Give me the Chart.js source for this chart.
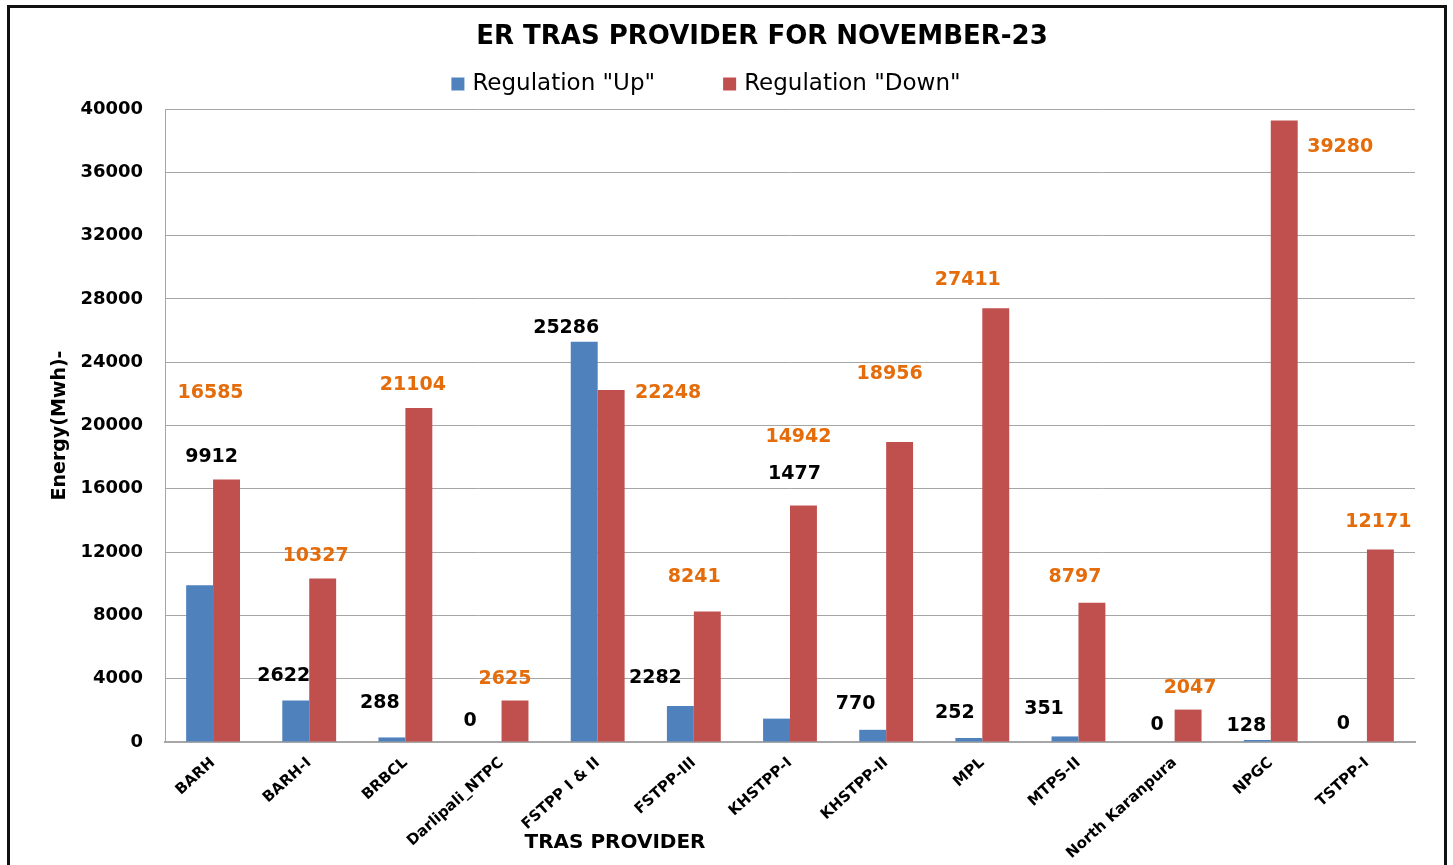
<!DOCTYPE html>
<html>
<head>
<meta charset="utf-8">
<script src="https://cdn.jsdelivr.net/npm/chart.js@4.4.0/dist/chart.umd.min.js"></script>
<style>
  body { margin: 0; background: #fff; overflow: hidden; }
  #wrap { position: relative; width: 1453px; height: 865px; }
  #frame { position: absolute; left: 7px; top: 5px; width: 1440px; height: 880px; border: 3px solid #111; box-sizing: border-box; }
  canvas { position: absolute; left: 0; top: 0; }
</style>
</head>
<body>
<div id="wrap">
  <div id="frame"></div>
  <canvas id="trasChart" width="1453" height="865"></canvas>
</div>
<script>
const providers = ['BARH', 'BARH-I', 'BRBCL', 'Darlipali_NTPC', 'FSTPP I & II', 'FSTPP-III', 'KHSTPP-I',
    'KHSTPP-II', 'MPL', 'MTPS-II', 'North Karanpura', 'NPGC', 'TSTPP-I'];
const regUp = [9912, 2622, 288, 0, 25286, 2282, 1477, 770, 252, 351, 0, 128, 0];
const regDown = [16585, 10327, 21104, 2625, 22248, 8241, 14942, 18956, 27411, 8797, 2047, 39280, 12171];
const yTicks = [0, 4000, 8000, 12000, 16000, 20000, 24000, 28000, 32000, 36000, 40000];

// label nudges (px) from the top of each bar, as placed in the original
const upShift = [[12, -128], [-12, -24], [-12, -34], [-18, -21], [-18, -14], [-25, -28], [18, -245],
    [-17, -26], [-14, -25], [-21, -27], [-4, -17], [-11, -14], [-10, -18]];
const downShift = [[-16, -86], [-7, -23], [-6, -23], [-10, -21], [57, 3], [-13, -35], [-5, -68],
    [-10, -68], [-28, -28], [-17, -26], [2, -22], [56, 27], [-2, -27]];

const FONT = '"DejaVu Sans", Verdana, sans-serif';

const valueLabels = {
    id: 'valueLabels',
    afterDatasetsDraw(chart) {
        const ctx = chart.ctx;
        ctx.save();
        ctx.font = 'bold 19px ' + FONT;
        ctx.textAlign = 'center';
        ctx.textBaseline = 'middle';
        chart.data.datasets.forEach((ds, di) => {
            const shifts = di === 0 ? upShift : downShift;
            ctx.fillStyle = di === 0 ? '#000000' : '#E46C0A';
            chart.getDatasetMeta(di).data.forEach((bar, i) => {
                ctx.fillText(ds.data[i], bar.x + shifts[i][0], bar.y + shifts[i][1]);
            });
        });
        ctx.restore();
    }
};

const headerAndLegend = {
    id: 'headerAndLegend',
    afterDraw(chart) {
        const ctx = chart.ctx;
        ctx.save();
        ctx.fillStyle = '#000';
        ctx.textBaseline = 'middle';
        // title
        ctx.font = 'bold 26px ' + FONT;
        ctx.textAlign = 'center';
        ctx.fillText('ER TRAS PROVIDER FOR NOVEMBER-23', 762, 37);
        // legend
        ctx.font = '23px ' + FONT;
        ctx.textAlign = 'left';
        const items = chart.data.datasets.map(ds => ({ text: ds.label, color: ds.backgroundColor }));
        const box = 13, gapIn = 8, gapOut = 68;
        const widths = items.map(it => box + gapIn + ctx.measureText(it.text).width);
        const total = widths.reduce((a, b) => a + b, 0) + gapOut * (items.length - 1);
        let x = 706 - total / 2;
        const y = 84;
        items.forEach((it, i) => {
            ctx.fillStyle = it.color;
            ctx.fillRect(x, y - box / 2, box, box);
            ctx.fillStyle = '#000';
            ctx.fillText(it.text, x + box + gapIn, y);
            x += widths[i] + gapOut;
        });
        // x axis title
        ctx.font = 'bold 20px ' + FONT;
        ctx.textAlign = 'center';
        ctx.fillText('TRAS PROVIDER', 615, 843);
        ctx.restore();
    }
};

new Chart(document.getElementById('trasChart'), {
    type: 'bar',
    data: {
        labels: providers,
        datasets: [{
            label: 'Regulation "Up"',
            data: regUp,
            backgroundColor: '#4F81BD',
            categoryPercentage: 0.56,
            barPercentage: 1
        }, {
            label: 'Regulation "Down"',
            data: regDown,
            backgroundColor: '#C0504D',
            categoryPercentage: 0.56,
            barPercentage: 1
        }]
    },
    options: {
        responsive: false,
        animation: false,
        layout: { padding: { left: 40, right: 38, top: 109, bottom: 0 } },
        plugins: {
            legend: { display: false },
            tooltip: { enabled: false },
            title: { display: false }
        },
        scales: {
            x: {
                grid: { display: false },
                border: { color: '#A6A6A6', width: 2 },
                ticks: {
                    color: '#000',
                    font: { family: FONT, size: 15, weight: 'bold' },
                    minRotation: 42,
                    maxRotation: 42,
                    autoSkip: false,
                    padding: 4
                },
                afterFit(scale) { scale.height = 123; }
            },
            y: {
                min: 0,
                max: 40000,
                afterBuildTicks(scale) { scale.ticks = yTicks.map(v => ({ value: v })); },
                grid: { color: '#A6A6A6', lineWidth: 1, drawTicks: false },
                border: { color: '#A6A6A6', width: 1 },
                ticks: {
                    color: '#000',
                    font: { family: FONT, size: 18, weight: 'bold' },
                    padding: 22,
                    callback: v => String(v)
                },
                title: {
                    display: true,
                    text: 'Energy(Mwh)-',
                    color: '#000',
                    font: { family: FONT, size: 19, weight: 'bold' },
                    padding: { top: 9, bottom: 0 }
                },
                afterFit(scale) { scale.width = 125; }
            }
        }
    },
    plugins: [valueLabels, headerAndLegend]
});
</script>
</body>
</html>
